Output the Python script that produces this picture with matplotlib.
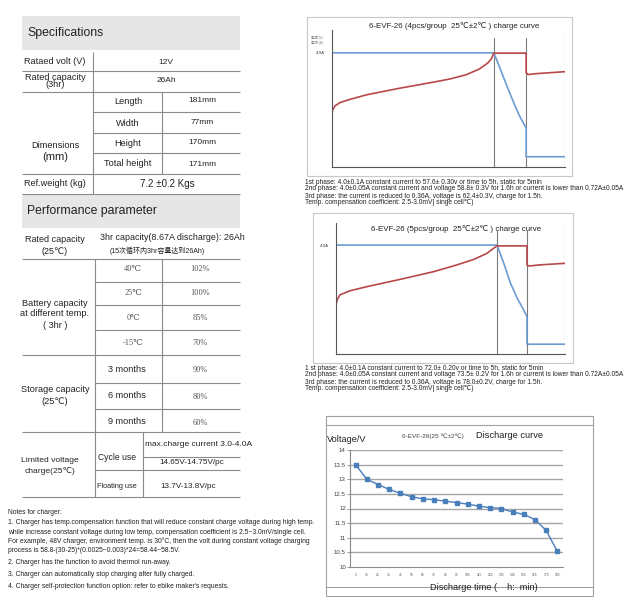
import matplotlib
matplotlib.use('Agg')
import matplotlib.pyplot as plt
from matplotlib.patches import Rectangle

# ---------------- data ----------------
spec_labels = ["Rataed volt (V)", "Rated capacity\n(3hr)"]
spec_values = ["12V", "26Ah"]
dim_names = ["Length", "Width", "Height", "Total height"]
dim_values = ["181mm", "77mm", "170mm", "171mm"]
weight_value = "7.2 ±0.2 Kgs"
temps = ["40℃", "25℃", "0℃", "-15℃"]
temp_caps = ["102%", "100%", "85%", "70%"]
storage_months = ["3 months", "6 months", "9 months"]
storage_caps = ["90%", "80%", "60%"]

# charge curve 1 (4pcs/group): time (h) vs relative value (A scale)
c1_volt_t = [0, 0.02, 0.09, 0.25, 0.56, 1.07, 2.09, 3.12, 3.63, 4.14, 4.55, 4.81, 4.92, 5.0, 6.0, 6.0, 6.06, 6.3, 7.2]
c1_volt_v = [1.82, 2.0, 2.14, 2.26, 2.37, 2.53, 2.76, 2.97, 3.08, 3.23, 3.43, 3.64, 3.78, 3.99, 3.99, 3.30, 3.24, 3.27, 3.34]
c1_curr_t = [0, 5.0, 5.17, 5.37, 5.58, 5.78, 6.0, 6.0, 7.2]
c1_curr_a = [4.0, 4.0, 3.52, 2.94, 2.35, 1.82, 1.36, 0.36, 0.36]
c1_phases = [5.0, 6.0, 7.2]

# charge curve 2 (5pcs/group)
c2_volt_t = [0, 0.04, 0.12, 0.43, 0.95, 1.99, 3.02, 3.75, 4.27, 4.68, 4.89, 5.0, 5.93, 5.93, 6.0, 6.3, 7.11]
c2_volt_v = [1.80, 2.0, 2.17, 2.32, 2.47, 2.74, 3.02, 3.27, 3.47, 3.69, 3.88, 3.97, 3.97, 3.27, 3.23, 3.27, 3.33]
c2_curr_t = [0, 5.0, 5.21, 5.42, 5.63, 5.83, 5.93, 5.93, 7.11]
c2_curr_a = [4.0, 4.0, 3.33, 2.59, 2.04, 1.61, 1.37, 0.36, 0.36]
c2_phases = [5.0, 5.93, 7.11]

# discharge curve
dis_time = ["5", "15", "25", "35", "45", "55", "65", "75", "85", "95", "105",
            "115", "125", "135", "145", "155", "165", "175", "185"]
dis_volt = [13.5, 13.0, 12.82, 12.65, 12.52, 12.4, 12.33, 12.3, 12.25, 12.2,
            12.15, 12.08, 12.03, 12.0, 11.88, 11.8, 11.62, 11.25, 10.53]
dis_yticks = [10, 10.5, 11, 11.5, 12, 12.5, 13, 13.5, 14]

c1_notes = ["1st phase: 4.0±0.1A constant current to 57.6± 0.30v or time to 5h, static for 5min",
            "2nd phase: 4.0±0.05A constant current and voltage 58.8± 0.3V for 1.6h or current is lower than 0.72A±0.05A",
            "3rd phase: the current is reduced to 0.36A, voltage is 62.4±0.3V, charge for 1.5h.",
            "Temp. compensation coefficient: 2.5-3.0mV| singe cell℃)"]
c2_notes = ["1 st phase: 4.0±0.1A constant current to 72.0± 0.20v or time to 5h, static for 5min",
            "2nd phase: 4.0±0.05A constant current and voltage 73.5± 0.2V for 1.6h or current is lower than 0.72A±0.05A",
            "3rd phase: the current is reduced to 0.36A, voltage is 78.0±0.2V, charge for 1.5h.",
            "Temp. compensation coefficient: 2.5-3.0mV| singe cell℃)"]
charger_notes = [
    "Notes for charger:",
    "1. Charger has temp.compensation function that will reduce constant charge voltage during high temp.",
    "while increase constant voltage during low temp, compensation coefficient is 2.5~3.0mV/single cell.",
    "For example, 48V charger, environment temp. is 30°C, then the volt during constant voltage charging",
    "process is 58.8-(30-25)*(0.0025~0.003)*24=58.44~58.5V.",
    "2. Charger has the function to avoid thermol run-away.",
    "3. Charger can automatically stop charging after fully charged.",
    "4. Charger self-protection function option: refer to ebike maker's requests."]

# ---------------- figure ----------------
W, H = 635, 607
fig = plt.figure(figsize=(W / 100, H / 100), dpi=100)
fig.patch.set_facecolor('white')
bg = fig.add_axes([0, 0, 1, 1])
bg.set_xlim(0, W)
bg.set_ylim(H, 0)
bg.axis('off')

SANS = ['Liberation Sans', 'DejaVu Sans', 'Noto Sans CJK SC']
SERIF = ['Liberation Serif', 'DejaVu Serif']
LC = '#8a8a8a'
TXT = '#222222'


def hl(y, x0, x1, c=LC, lw=0.8):
    bg.plot([x0, x1], [y, y], color=c, lw=lw, solid_capstyle='butt')


def vl(x, y0, y1, c=LC, lw=0.8):
    bg.plot([x, x], [y0, y1], color=c, lw=lw, solid_capstyle='butt')


def t(x, y, s, size=6.5, ha='center', va='center', fam=SANS, color=TXT, **kw):
    bg.text(x, y, s, fontsize=size, ha=ha, va=va, family=fam, color=color, **kw)


def px_axes(x0, y0, x1, y1):
    return fig.add_axes([x0 / W, 1 - y1 / H, (x1 - x0) / W, (y1 - y0) / H])


# ---------- Specifications table ----------
bg.add_patch(Rectangle((22, 16), 218, 34, fc='#e6e6e6', ec='none'))
t(27, 33, "Specifications", size=8.8, ha='left')
bg.add_patch(Rectangle((22, 194), 218, 34, fc='#e6e6e6', ec='none'))
t(27, 211, "Performance parameter", size=8.8, ha='left')

vl(93, 52, 194)
vl(162, 92, 174)
for y in [71, 92, 174, 194]:
    hl(y, 22, 240)
for y in [112, 133, 153]:
    hl(y, 93, 240)

row_y = [62, 81]
for lab, val, y in zip(spec_labels, spec_values, row_y):
    t(55, y, lab, size=6.6, linespacing=0.85)
    t(166, y, val, size=6.0)
t(55, 146, "Dimensions", size=6.6)
t(55, 157, "(mm)", size=8.0)
dim_y = [101, 123, 143, 164]
for name, val, y in zip(dim_names, dim_values, dim_y):
    t(128, y, name, size=6.6)
    t(202, y, val, size=6.0)
t(55, 184, "Ref.weight (kg)", size=6.6)
t(167, 184, weight_value, size=7.0)

# ---------- Performance table ----------
vl(95, 259, 497)
vl(162, 259, 432)
vl(143, 432, 497)
for y in [259, 355, 432, 497]:
    hl(y, 22, 240)
for y in [282, 305, 330, 383, 409, 470]:
    hl(y, 95, 240)
hl(457, 143, 240)

t(55, 240, "Rated capacity", size=6.5)
t(55, 251, "(25℃)", size=6.5)
t(100, 237, "3hr capacity(8.67A discharge): 26Ah", size=6.4, ha='left')
t(110, 251, "(15次循环内3hr容量达到26Ah)", size=5.0, ha='left',
  fam=['Liberation Sans', 'Noto Sans CJK SC'])

temp_y = [269, 293, 318, 343]
for tt, cap, y in zip(temps, temp_caps, temp_y):
    t(133, y, tt, size=6.0, fam=SERIF, color='#555555')
    t(200, y, cap, size=6.0, fam=SERIF, color='#555555')
t(55, 303, "Battery capacity", size=6.6)
t(55, 314, "at different temp.", size=6.6)
t(55, 325, "( 3hr )", size=6.6)

st_y = [369, 396, 422]
for m, cap, y in zip(storage_months, storage_caps, st_y):
    t(127, y, m, size=6.6)
    t(200, y + 1, cap, size=6.0, fam=SERIF, color='#555555')
t(55, 389, "Storage capacity", size=6.6)
t(55, 402, "(25℃)", size=6.6)

t(50, 460, "Limited voltage", size=6.1)
t(50, 471, "charge(25℃)", size=6.1)
t(117, 458, "Cycle use", size=6.2)
t(117, 486, "Floating use", size=5.3, fontstretch='condensed')
t(145, 445, "max.charge current 3.0-4.0A", size=6.0, ha='left')
t(192, 463, "14.65V-14.75V/pc", size=5.9)
t(188, 486, "13.7V-13.8V/pc", size=5.9)

# ---------- charger notes ----------
note_y = [513, 523, 532, 541, 550, 562, 574, 586]
for s, y in zip(charger_notes, note_y):
    t(8, y, s, size=4.85, ha='left')

# ---------- charge curve panels ----------
RED = '#b8474a'
BLUE = '#6b9bd2'


def charge_panel(box, area, tmax, ymax, vt, vv, ct, ca, phases, title, title_y, legend):
    x0, y0, x1, y1 = box
    bg.add_patch(Rectangle((x0, y0), x1 - x0, y1 - y0, fc='none', ec='#c8c8c8', lw=0.8))
    ax = px_axes(*area)
    ax.patch.set_alpha(0)
    ax.set_xlim(0, tmax)
    ax.set_ylim(0, ymax)
    for sp in ['top', 'right']:
        ax.spines[sp].set_visible(False)
    for sp in ['left', 'bottom']:
        ax.spines[sp].set_color('#555555')
        ax.spines[sp].set_linewidth(0.8)
    ax.set_xticks([])
    ax.set_yticks([4.0])
    ax.set_yticklabels(["4.0A"], fontsize=3.2, family=SANS, color='#444444')
    ax.tick_params(axis='y', length=0, pad=5)
    for i, p in enumerate(phases):
        ax.axvline(p, ymin=0, ymax=(0.94 if i < len(phases) - 1 else 1.0), color='#7a7a7a', lw=0.8)
    ax.plot(ct, ca, color=BLUE, lw=1.2, solid_joinstyle='round')
    ax.plot(vt, vv, color=RED, lw=1.2, solid_joinstyle='round')
    t((area[0] + area[2]) / 2 + 6, title_y, title, size=5.7, fam=SANS)
    if legend:
        t(311, 37, "电压 (V)", size=2.4, ha='left', fam=['Noto Sans CJK SC'], color='#777777')
        t(311, 42, "电流 (A)", size=2.4, ha='left', fam=['Noto Sans CJK SC'], color='#777777')
    return ax


charge_panel((307, 17, 572, 176), (332, 30, 565, 167), 7.2, 4.8,
             c1_volt_t, c1_volt_v, c1_curr_t, c1_curr_a, c1_phases,
             "6-EVF-26 (4pcs/group  25℃±2℃ ) charge curve", 26, True)
charge_panel((313, 213, 573, 363), (336, 223, 565, 354), 7.11, 4.81,
             c2_volt_t, c2_volt_v, c2_curr_t, c2_curr_a, c2_phases,
             "6-EVF-26 (5pcs/group  25℃±2℃ ) charge curve", 229, False)

for s, y in zip(c1_notes, [182, 188, 196, 202]):
    t(305, y, s, size=4.8, ha='left')
for s, y in zip(c2_notes, [369, 375, 382, 388]):
    t(305, y, s, size=4.8, ha='left')

# ---------- discharge panel ----------
bg.add_patch(Rectangle((326, 416), 267, 180, fc='none', ec='#a0a0a0', lw=0.8))
hl(425, 326, 593, c='#a0a0a0')
hl(587, 326, 593, c='#a0a0a0')
t(327, 439, "Voltage/V", size=6.6, ha='left')
t(402, 436, "6-EVF-26(25 ℃±2℃)", size=4.6, ha='left', color='#444444')
t(476, 435, "Discharge curve", size=6.7, ha='left')
t(430, 587, "Discharge time (    h:  min)", size=6.6, ha='left')

dax = px_axes(350, 450, 563, 567)
dax.patch.set_alpha(0)
xs = list(range(len(dis_time)))
dax.set_xlim(-0.5, len(dis_time) - 0.5)
dax.set_ylim(10, 14)
dax.set_yticks(dis_yticks)
dax.set_yticklabels([f"{v:g}" for v in dis_yticks], fontsize=4.4, family=SANS, color='#444444')
dax.set_xticks(xs)
dax.set_xticklabels(dis_time, fontsize=2.4, family=SANS, color='#555555')
dax.tick_params(axis='y', length=2, width=0.6, color='#888888', pad=1)
dax.tick_params(axis='x', length=0, pad=4)
for v in dis_yticks[1:]:
    dax.axhline(v, color='#a6a6a6', lw=1.0, zorder=1)
for sp in ['top', 'right']:
    dax.spines[sp].set_visible(False)
for sp in ['left', 'bottom']:
    dax.spines[sp].set_color('#8a8a8a')
    dax.spines[sp].set_linewidth(0.8)
dax.plot(xs, dis_volt, color='#4a7ebb', lw=1.0, marker='s', ms=2.2, zorder=3)

fig.savefig('out.png', dpi=100)
